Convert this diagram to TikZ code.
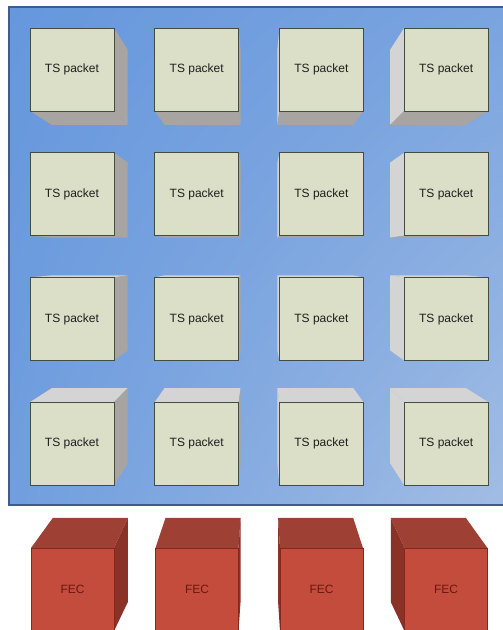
\documentclass[tikz,border=0pt]{standalone}
\usepackage{fontspec}
\setmainfont{Liberation Sans}
\usetikzlibrary{calc,shadings}
\definecolor{panelUL}{RGB}{102,151,221}
\definecolor{panelUR}{RGB}{122,164,223}
\definecolor{panelLL}{RGB}{112,158,222}
\definecolor{panelLR}{RGB}{162,189,228}
\definecolor{paneledge}{RGB}{62,92,140}
\definecolor{tsfront}{RGB}{219,223,199}
\definecolor{tsedge}{RGB}{66,76,66}
\definecolor{tsdark}{RGB}{168,164,162}
\definecolor{tslight}{RGB}{212,212,212}
\definecolor{tstext}{RGB}{30,30,30}
\definecolor{fecfront}{RGB}{196,76,60}
\definecolor{fectop}{RGB}{158,64,52}
\definecolor{fecside}{RGB}{138,50,40}
\definecolor{fecedge}{RGB}{130,40,30}
\definecolor{fectext}{RGB}{105,24,16}
\begin{document}
\begin{tikzpicture}[x=1pt,y=1pt,
  tsfrontface/.style={fill=tsfront, draw=tsedge, line width=0.7pt},
  tsdarkside/.style={fill=tsdark},
  tslightside/.style={fill=tslight},
  tslabel/.style={font=\fontsize{12}{14}\selectfont, text=tstext},
  fecfrontface/.style={fill=fecfront, draw=fecedge, line width=0.5pt},
  fectopface/.style={fill=fectop},
  fecsideface/.style={fill=fecside},
  feclabel/.style={font=\fontsize{12}{14}\selectfont, text=fectext}]
\useasboundingbox (0,0) rectangle (503,630);
\fill[white] (0,0) rectangle (503,630);
% panel
\shade[upper left=panelUL, upper right=panelUR, lower left=panelLL, lower right=panelLR]
  (9,125) rectangle (507,623);
\draw[paneledge, line width=1.2pt] (9,125) rectangle (507,623);
% vanishing point
\coordinate (V) at (258,374);
\foreach \i in {0,1,2,3} {
  \foreach \j in {0,1,2,3} {
    \pgfmathsetmacro\xl{30+124.7*\i}
    \pgfmathsetmacro\yt{602-124.7*\j}
    \coordinate (A) at (\xl,\yt);
    \coordinate (B) at (\xl+84,\yt);
    \coordinate (C) at (\xl+84,\yt-83);
    \coordinate (D) at (\xl,\yt-83);
    \coordinate (Ab) at ($(A)!0.095!(V)$);
    \coordinate (Bb) at ($(B)!0.095!(V)$);
    \coordinate (Cb) at ($(C)!0.095!(V)$);
    \coordinate (Db) at ($(D)!0.095!(V)$);
    \pgfmathtruncatemacro\showtop{\yt<374 ? 1 : 0}
    \pgfmathtruncatemacro\showbot{\yt-83>374 ? 1 : 0}
    \pgfmathtruncatemacro\showleft{\xl>258 ? 1 : 0}
    \pgfmathtruncatemacro\showright{\xl+84<258 ? 1 : 0}
    \ifnum\showtop=1 \fill[tslightside] (A)--(Ab)--(Bb)--(B)--cycle; \fi
    \ifnum\showleft=1 \fill[tslightside] (A)--(Ab)--(Db)--(D)--cycle; \fi
    \ifnum\showright=1 \fill[tsdarkside] (B)--(Bb)--(Cb)--(C)--cycle; \fi
    \ifnum\showbot=1 \fill[tsdarkside] (D)--(Db)--(Cb)--(C)--cycle; \fi
    \draw[tsfrontface] (A) rectangle (C);
    \node[tslabel] (ts\i\j) at ($(A)!0.5!(C)$) {TS packet};
  }
}
% FEC boxes
\foreach \i in {0,1,2,3} {
  \pgfmathsetmacro\xl{31+124.5*\i}
  \pgfmathsetmacro\xr{\xl+83}
  \pgfmathsetmacro\xlb{\xl+0.095*(260-\xl)}
  \pgfmathsetmacro\xrb{\xr+0.095*(260-\xr)}
  \coordinate (A) at (\xl,82);
  \coordinate (B) at (\xr,82);
  \coordinate (C) at (\xr,-1);
  \coordinate (D) at (\xl,-1);
  \coordinate (Ab) at (\xlb,112);
  \coordinate (Bb) at (\xrb,112);
  \coordinate (Cb) at (\xrb,28);
  \coordinate (Db) at (\xlb,28);
  \pgfmathtruncatemacro\showleft{\xl>260 ? 1 : 0}
  \pgfmathtruncatemacro\showright{\xr<260 ? 1 : 0}
  \fill[fectopface] (A)--(Ab)--(Bb)--(B)--cycle;
  \ifnum\showleft=1 \fill[fecsideface] (A)--(Ab)--(Db)--(D)--cycle; \fi
  \ifnum\showright=1 \fill[fecsideface] (B)--(Bb)--(Cb)--(C)--cycle; \fi
  \draw[fecfrontface] (A) rectangle (C);
  \node[feclabel] (fec\i) at (\xl+41.5,41) {FEC};
}
\end{tikzpicture}
\end{document}
